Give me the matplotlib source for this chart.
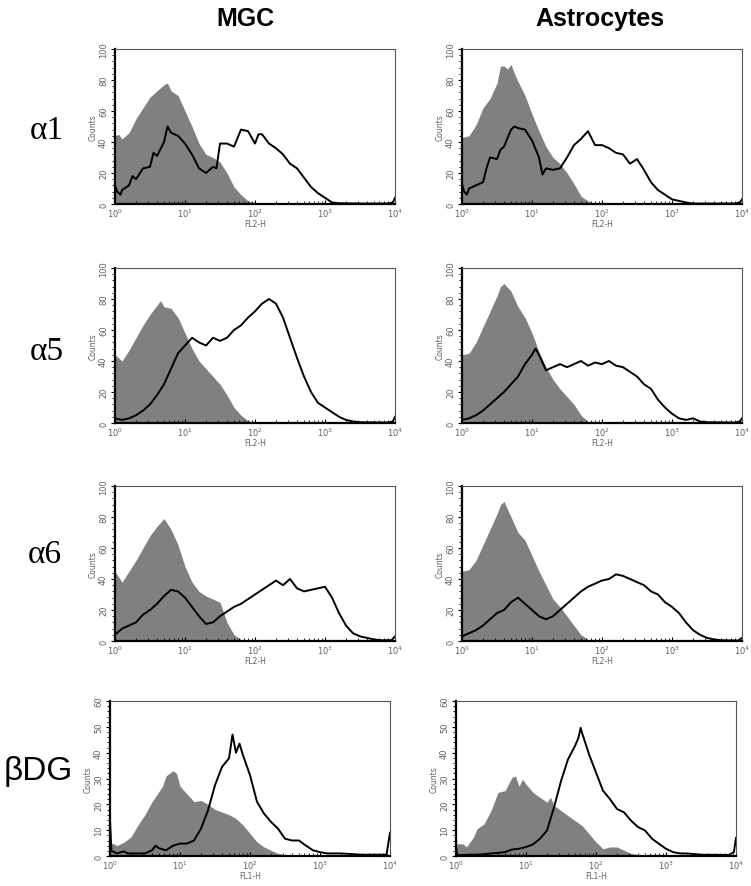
import matplotlib
matplotlib.use('Agg')
import numpy as np
import matplotlib.pyplot as plt
from matplotlib.ticker import FixedLocator, NullFormatter

# (log10 fluorescence, counts)
mgc_a1_ctrl = [(0.0, 44), (0.05, 45), (0.1, 42), (0.2, 46), (0.3, 55), (0.4, 62), (0.5, 69), (0.6, 73),
               (0.7, 77), (0.75, 78), (0.8, 73), (0.9, 70), (1.0, 60), (1.1, 50), (1.2, 39), (1.3, 32),
               (1.4, 30), (1.5, 27), (1.6, 20), (1.7, 11), (1.8, 6), (1.9, 2), (2.0, 0.5), (2.1, 0), (4.0, 0)]
mgc_a1_ab = [(0.0, 12), (0.03, 8), (0.08, 6), (0.1, 9), (0.2, 12), (0.25, 18), (0.3, 16), (0.4, 23),
             (0.5, 24), (0.55, 33), (0.6, 31), (0.7, 40), (0.75, 50), (0.8, 46), (0.9, 44), (1.0, 39),
             (1.1, 32), (1.2, 23), (1.3, 20), (1.4, 24), (1.45, 23), (1.5, 39), (1.6, 39), (1.7, 37),
             (1.8, 48), (1.9, 47), (2.0, 39), (2.05, 45), (2.1, 45), (2.2, 39), (2.3, 36), (2.4, 32),
             (2.5, 26), (2.6, 23), (2.7, 17), (2.8, 11), (2.9, 7), (3.0, 4), (3.1, 1), (3.2, 0.5),
             (3.5, 0.3), (3.9, 0.3), (3.97, 1), (4.0, 4)]

ast_a1_ctrl = [(0.0, 43), (0.1, 44), (0.2, 51), (0.3, 62), (0.4, 68), (0.5, 78), (0.55, 89), (0.6, 89),
               (0.65, 87), (0.7, 90), (0.75, 84), (0.8, 79), (0.9, 70), (1.0, 58), (1.1, 47), (1.2, 37),
               (1.3, 30), (1.4, 26), (1.5, 20), (1.6, 13), (1.7, 5), (1.8, 2), (1.9, 0), (4.0, 0)]
ast_a1_ab = [(0.0, 13), (0.03, 8), (0.07, 6), (0.1, 10), (0.15, 11), (0.2, 12), (0.3, 14), (0.35, 23),
             (0.4, 30), (0.5, 29), (0.55, 35), (0.6, 37), (0.7, 48), (0.75, 50), (0.8, 49), (0.9, 48),
             (1.0, 41), (1.1, 30), (1.15, 19), (1.2, 23), (1.3, 22), (1.4, 23), (1.5, 30), (1.6, 38),
             (1.7, 42), (1.8, 47), (1.9, 38), (2.0, 38), (2.1, 36), (2.2, 33), (2.3, 32), (2.4, 26),
             (2.5, 29), (2.6, 22), (2.7, 14), (2.8, 9), (2.9, 6), (3.0, 3), (3.1, 2), (3.2, 1),
             (3.3, 0.3), (3.9, 0.3), (3.97, 1), (4.0, 3)]

mgc_a5_ctrl = [(0.0, 44), (0.1, 40), (0.2, 47), (0.3, 55), (0.4, 63), (0.5, 70), (0.6, 76), (0.65, 79),
               (0.7, 75), (0.8, 74), (0.9, 68), (1.0, 58), (1.1, 48), (1.2, 40), (1.3, 35), (1.4, 30),
               (1.5, 25), (1.6, 18), (1.7, 10), (1.8, 5), (1.9, 1.5), (2.0, 0), (4.0, 0)]
mgc_a5_ab = [(0.0, 3), (0.1, 2), (0.2, 3), (0.3, 5), (0.4, 8), (0.5, 12), (0.6, 18), (0.7, 25), (0.8, 35),
             (0.9, 45), (1.0, 50), (1.1, 55), (1.2, 52), (1.3, 50), (1.4, 55), (1.5, 53), (1.6, 55),
             (1.7, 60), (1.8, 63), (1.9, 68), (2.0, 72), (2.1, 77), (2.2, 80), (2.3, 77), (2.4, 68),
             (2.5, 55), (2.6, 42), (2.7, 30), (2.8, 20), (2.9, 13), (3.0, 10), (3.1, 7), (3.2, 4),
             (3.3, 2), (3.4, 1), (3.5, 0.5), (3.9, 0.3), (3.97, 1), (4.0, 4)]

ast_a5_ctrl = [(0.0, 44), (0.1, 45), (0.2, 52), (0.3, 62), (0.4, 72), (0.5, 82), (0.55, 88), (0.6, 90),
               (0.7, 85), (0.8, 75), (0.9, 68), (1.0, 58), (1.1, 46), (1.2, 36), (1.3, 28), (1.4, 22),
               (1.5, 17), (1.6, 12), (1.7, 5), (1.8, 1), (1.9, 0), (4.0, 0)]
ast_a5_ab = [(0.0, 2), (0.1, 3), (0.2, 5), (0.3, 8), (0.4, 12), (0.5, 16), (0.6, 20), (0.7, 25), (0.8, 30),
             (0.9, 38), (1.0, 44), (1.05, 48), (1.1, 44), (1.2, 34), (1.3, 36), (1.4, 38), (1.5, 36),
             (1.6, 38), (1.7, 40), (1.8, 37), (1.9, 39), (2.0, 38), (2.1, 40), (2.2, 37), (2.3, 36),
             (2.4, 33), (2.5, 30), (2.6, 25), (2.7, 22), (2.8, 15), (2.9, 10), (3.0, 6), (3.1, 3),
             (3.2, 2), (3.3, 3), (3.4, 1), (3.5, 0.5), (3.9, 0.3), (3.97, 1), (4.0, 3)]

mgc_a6_ctrl = [(0.0, 45), (0.1, 38), (0.2, 45), (0.3, 52), (0.4, 60), (0.5, 68), (0.6, 74), (0.7, 79),
               (0.8, 72), (0.9, 62), (1.0, 48), (1.1, 38), (1.2, 32), (1.3, 29), (1.4, 27), (1.5, 25),
               (1.6, 12), (1.7, 4), (1.8, 1), (1.9, 0), (4.0, 0)]
mgc_a6_ab = [(0.0, 4), (0.1, 8), (0.2, 10), (0.3, 12), (0.4, 17), (0.5, 20), (0.6, 24), (0.7, 29),
             (0.8, 33), (0.9, 32), (1.0, 28), (1.1, 22), (1.2, 16), (1.3, 11), (1.4, 12), (1.5, 16),
             (1.6, 19), (1.7, 22), (1.8, 24), (1.9, 27), (2.0, 30), (2.1, 33), (2.2, 36), (2.3, 39),
             (2.4, 36), (2.5, 40), (2.6, 34), (2.7, 32), (2.8, 33), (2.9, 34), (3.0, 35), (3.1, 28),
             (3.2, 18), (3.3, 10), (3.4, 5), (3.5, 3), (3.6, 2), (3.7, 1), (3.8, 0.5), (3.95, 0.5), (4.0, 3)]

ast_a6_ctrl = [(0.0, 45), (0.1, 46), (0.2, 52), (0.3, 62), (0.4, 72), (0.5, 82), (0.55, 88), (0.6, 90),
               (0.7, 80), (0.8, 70), (0.9, 65), (1.0, 55), (1.1, 45), (1.2, 36), (1.3, 27), (1.4, 22),
               (1.5, 16), (1.6, 10), (1.7, 4), (1.8, 1), (1.9, 0), (4.0, 0)]
ast_a6_ab = [(0.0, 3), (0.1, 5), (0.2, 7), (0.3, 10), (0.4, 14), (0.5, 18), (0.6, 20), (0.7, 25),
             (0.8, 28), (0.9, 24), (1.0, 20), (1.1, 16), (1.2, 14), (1.3, 16), (1.4, 20), (1.5, 24),
             (1.6, 28), (1.7, 32), (1.8, 35), (1.9, 37), (2.0, 39), (2.1, 40), (2.2, 43), (2.3, 42),
             (2.4, 40), (2.5, 38), (2.6, 36), (2.7, 32), (2.8, 30), (2.9, 25), (3.0, 22), (3.1, 18),
             (3.2, 12), (3.3, 7), (3.4, 4), (3.5, 2), (3.6, 1), (3.7, 0.5), (3.95, 0.3), (4.0, 2)]

mgc_dg_ctrl = [(0.0, 5), (0.05, 4.8), (0.1, 4), (0.2, 5.4), (0.3, 7.4), (0.4, 12), (0.5, 16), (0.6, 21),
               (0.7, 25), (0.75, 27), (0.8, 31), (0.9, 33), (0.95, 32), (1.0, 27), (1.1, 24), (1.2, 21),
               (1.3, 21.5), (1.4, 20), (1.5, 18), (1.6, 17), (1.7, 16), (1.8, 14.5), (1.9, 12), (2.0, 8.7),
               (2.1, 5.4), (2.2, 3.5), (2.3, 2.2), (2.4, 1), (2.5, 0.5), (2.6, 0), (4.0, 0)]
mgc_dg_ab = [(0.0, 14), (0.02, 2), (0.1, 1), (0.2, 1.8), (0.25, 1), (0.3, 1), (0.4, 1), (0.5, 1),
             (0.6, 2.2), (0.65, 4), (0.7, 3), (0.8, 2.2), (0.9, 4), (1.0, 4.8), (1.1, 4.8), (1.2, 6),
             (1.3, 10.6), (1.4, 17.7), (1.5, 27.4), (1.6, 34.5), (1.7, 37.8), (1.75, 47), (1.8, 40),
             (1.85, 43.5), (1.9, 39), (2.0, 31.3), (2.1, 21), (2.2, 16.4), (2.3, 13.2), (2.4, 10.6),
             (2.5, 6.7), (2.6, 6), (2.7, 6), (2.8, 4), (2.9, 2.2), (3.0, 1.5), (3.1, 1), (3.3, 1),
             (3.6, 0.5), (3.95, 0.5), (4.0, 9)]

ast_dg_ctrl = [(0.0, 15), (0.01, 4.7), (0.1, 4.7), (0.15, 3.5), (0.25, 7.3), (0.3, 10.5), (0.4, 12.4),
               (0.5, 17.6), (0.6, 24.6), (0.7, 25.3), (0.8, 30.4), (0.85, 31), (0.9, 27), (0.95, 29.7),
               (1.0, 27.8), (1.1, 24.6), (1.2, 22.7), (1.3, 20.8), (1.35, 22.7), (1.4, 19.5), (1.5, 17.6),
               (1.6, 15.6), (1.7, 13.7), (1.8, 11.8), (1.9, 8.6), (2.0, 5.4), (2.1, 2.8), (2.2, 3.5),
               (2.3, 3.5), (2.4, 2.2), (2.5, 1), (2.6, 0.5), (2.7, 0), (4.0, 0)]
ast_dg_ab = [(0.0, 3.5), (0.02, 0.3), (0.2, 0.5), (0.3, 0.5), (0.4, 0.7), (0.5, 1), (0.6, 1.2), (0.7, 1.5),
             (0.8, 2.5), (0.9, 2.8), (1.0, 3.5), (1.1, 4.5), (1.2, 6.7), (1.3, 9.9), (1.4, 18.8), (1.5, 29),
             (1.6, 37.4), (1.7, 42.6), (1.75, 45.8), (1.78, 49.6), (1.8, 47.7), (1.9, 39.4), (2.0, 32.3),
             (2.1, 25.3), (2.2, 22), (2.3, 18.2), (2.4, 16.9), (2.5, 13.7), (2.6, 11.2), (2.7, 9.9),
             (2.8, 6.7), (2.9, 4.7), (3.0, 2.8), (3.1, 1.5), (3.2, 1), (3.3, 1), (3.5, 0.5), (3.9, 0.4),
             (3.97, 1.5), (4.0, 7)]

row_labels = ['α1', 'α5', 'α6', 'βDG']
col_titles = ['MGC', 'Astrocytes']
x_labels = ['FL2-H', 'FL2-H', 'FL2-H', 'FL1-H']
y_max = [100, 100, 100, 60]
panels = [[(mgc_a1_ctrl, mgc_a1_ab), (ast_a1_ctrl, ast_a1_ab)],
          [(mgc_a5_ctrl, mgc_a5_ab), (ast_a5_ctrl, ast_a5_ab)],
          [(mgc_a6_ctrl, mgc_a6_ab), (ast_a6_ctrl, ast_a6_ab)],
          [(mgc_dg_ctrl, mgc_dg_ab), (ast_dg_ctrl, ast_dg_ab)]]

W, H = 751, 887
fig = plt.figure(figsize=(W / 100, H / 100), dpi=100)

row_tops = [50, 269, 487, 702]
col_lefts = [[115, 462], [115, 462], [115, 462], [110, 456]]
ax_w, ax_h = 280, 155
label_gray = '#606060'

for r in range(4):
    for c in range(2):
        left = col_lefts[r][c]
        top = row_tops[r]
        ax = fig.add_axes([left / W, 1 - (top + ax_h) / H, ax_w / W, ax_h / H])
        ctrl, ab = panels[r][c]
        cx = 10 ** np.array([p[0] for p in ctrl])
        cy = np.array([p[1] for p in ctrl])
        bx = 10 ** np.array([p[0] for p in ab])
        by = np.array([p[1] for p in ab])
        ax.fill_between(cx, 0, cy, color='#808080', lw=0, zorder=1)
        ax.plot(bx, by, color='black', lw=1.4, zorder=2)
        ax.set_xscale('log')
        ax.set_xlim(1, 1e4)
        ym = y_max[r]
        ax.set_ylim(0, ym)
        step = 20 if ym == 100 else 10
        ax.yaxis.set_major_locator(FixedLocator(np.arange(0, ym + 1, step)))
        ax.yaxis.set_minor_locator(FixedLocator(np.arange(0, ym + 1, step / 5)))
        ax.set_xticks([1, 10, 100, 1000, 10000])
        ax.set_xticklabels(['$10^0$', '$10^1$', '$10^2$', '$10^3$', '$10^4$'])
        ax.xaxis.set_minor_formatter(NullFormatter())
        for lab in ax.get_yticklabels():
            lab.set_rotation(90)
            lab.set_va('center')
        ax.tick_params(axis='both', which='major', labelsize=6, colors='black',
                       labelcolor=label_gray, length=3, width=0.8, pad=2)
        ax.tick_params(axis='both', which='minor', length=2, width=0.6)
        ax.tick_params(axis='x', which='both', direction='in')
        ax.set_ylabel('Counts', fontsize=5.5, color=label_gray, labelpad=1)
        ax.set_xlabel(x_labels[r], fontsize=5.5, color=label_gray, labelpad=0)
        for s in ['top', 'right']:
            ax.spines[s].set_linewidth(0.8)
            ax.spines[s].set_color('#555555')
        for s in ['left', 'bottom']:
            ax.spines[s].set_linewidth(1.6)
            ax.spines[s].set_color('black')

for c, (t, xc) in enumerate(zip(col_titles, [245, 600])):
    fig.text(xc / W, 1 - 19 / H, t, ha='center', va='center', fontsize=18,
             fontweight='bold', family='Liberation Sans')

label_pos = [(47, 131), (47, 352), (45, 555), (38, 772)]
for lab, (lx, ly) in zip(row_labels, label_pos):
    fam = 'Liberation Sans' if lab == 'βDG' else 'Liberation Serif'
    fig.text(lx / W, 1 - ly / H, lab, ha='center', va='center', fontsize=24, family=fam)

fig.savefig('out.png', dpi=100)
